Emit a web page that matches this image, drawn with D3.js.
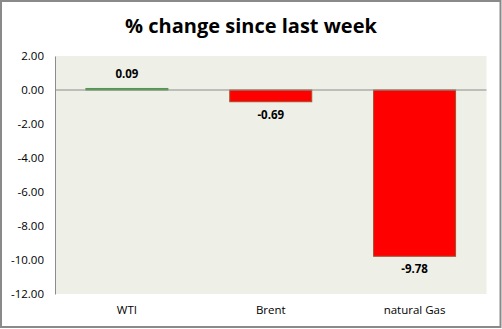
<!DOCTYPE html>
<html>
<head>
<meta charset="utf-8">
<script src="https://cdn.jsdelivr.net/npm/d3@7"></script>
<style>
  html, body { margin: 0; padding: 0; background: #fff; }
  svg { display: block; }
  text { font-family: "Open Sans", "Liberation Sans", sans-serif; }
</style>
</head>
<body>
<script>
// Weekly percentage change by commodity
const categories = ["WTI", "Brent", "natural Gas"];
const values = [0.09, -0.69, -9.78];
const tickValues = [2, 0, -2, -4, -6, -8, -10, -12];
const title = "% change since last week";

const W = 502, H = 329;
const plot = { left: 55, right: 486.5, top: 56, bottom: 294 };

// two decimals with a plain hyphen for negatives
const fmt = d => d3.format(".2f")(d).replace("\u2212", "-");

const svg = d3.select("body").append("svg")
  .attr("width", W).attr("height", H);

// outer chart frame
svg.append("rect")
  .attr("x", 1).attr("y", 1).attr("width", W - 2.5).attr("height", H - 3)
  .attr("fill", "#fff").attr("stroke", "#8a8a8a").attr("stroke-width", 2);

// plot area background
svg.append("rect")
  .attr("x", plot.left).attr("y", plot.top)
  .attr("width", plot.right - plot.left).attr("height", plot.bottom - plot.top)
  .attr("fill", "#eef0e8");

const x = d3.scaleBand().domain(categories)
  .range([plot.left, plot.right]).paddingInner(0.43).paddingOuter(0.215);
const y = d3.scaleLinear().domain([-12, 2]).range([plot.bottom, plot.top]);

// title
svg.append("text")
  .attr("x", W / 2).attr("y", 33)
  .attr("text-anchor", "middle")
  .attr("font-size", 20).attr("font-weight", "bold").attr("fill", "#000")
  .text(title);

// y axis
const yAxis = d3.axisLeft(y).tickValues(tickValues).tickFormat(fmt).tickSize(0).tickPadding(11);
const gy = svg.append("g").attr("transform", `translate(${plot.left},0)`).call(yAxis);
gy.select(".domain").attr("stroke", "#8c8c8c");
gy.selectAll("text").attr("font-size", 11.5).attr("fill", "#000")
  .attr("font-family", "\"Open Sans\", \"Liberation Sans\", sans-serif");

// bars
svg.selectAll("rect.bar").data(values).enter().append("rect")
  .attr("class", "bar")
  .attr("x", (d, i) => x(categories[i]))
  .attr("width", x.bandwidth())
  .attr("y", d => y(Math.max(0, d)))
  .attr("height", d => Math.abs(y(d) - y(0)))
  .attr("fill", d => d >= 0 ? "#4a9a4a" : "#ff0000")
  .attr("stroke", d => d >= 0 ? "#4a9a4a" : "#a0522d")
  .attr("stroke-width", 1);

// zero line
svg.append("line")
  .attr("x1", plot.left).attr("x2", plot.right)
  .attr("y1", y(0)).attr("y2", y(0))
  .attr("stroke", "#8c8c8c").attr("stroke-width", 1);

// value labels
svg.selectAll("text.val").data(values).enter().append("text")
  .attr("class", "val")
  .attr("x", (d, i) => x(categories[i]) + x.bandwidth() / 2)
  .attr("y", d => d >= 0 ? y(d) - 10 : y(d) + 17)
  .attr("text-anchor", "middle")
  .attr("font-size", 11.5).attr("font-weight", "bold").attr("fill", "#000")
  .text(fmt);

// category labels
svg.selectAll("text.cat").data(categories).enter().append("text")
  .attr("class", "cat")
  .attr("x", d => x(d) + x.bandwidth() / 2)
  .attr("y", 314)
  .attr("text-anchor", "middle")
  .attr("font-size", 11.5).attr("fill", "#000")
  .text(d => d);
</script>
</body>
</html>
